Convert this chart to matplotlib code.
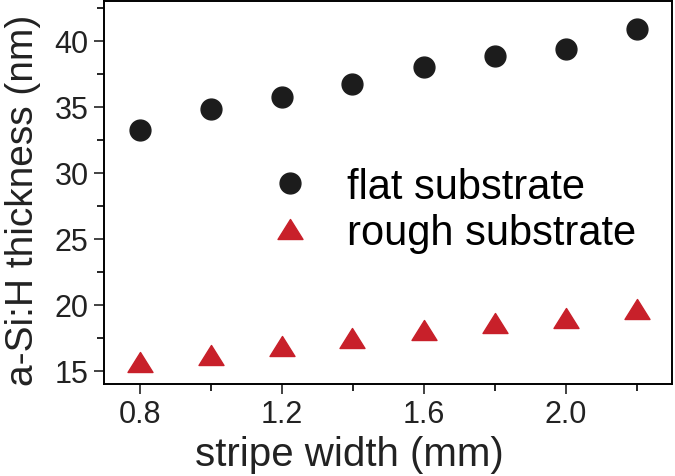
import numpy as np
import matplotlib
matplotlib.use("Agg")
import matplotlib.pyplot as plt
from matplotlib.path import Path
from matplotlib.ticker import MultipleLocator

plt.rcParams.update({
    "font.family": ["Liberation Sans", "DejaVu Sans"],
    "axes.linewidth": 1.4,
    "xtick.direction": "out",
    "ytick.direction": "out",
})

# ── data ─────────────────────────────────────────────────────
stripe_width = [0.8, 1.0, 1.2, 1.4, 1.6, 1.8, 2.0, 2.2]
flat_thick   = [33.2, 34.8, 35.7, 36.7, 38.0, 38.8, 39.4, 40.9]
rough_thick  = [15.7, 16.2, 16.9, 17.5, 18.1, 18.6, 19.0, 19.7]

# slightly squat triangle, as in the original
TRI = Path([(0, 1), (-1.25, -1), (1.25, -1), (0, 1)],
           [Path.MOVETO, Path.LINETO, Path.LINETO, Path.CLOSEPOLY])

fig = plt.figure(figsize=(6.75, 4.77), dpi=100)
ax = fig.add_axes([104 / 675, 92 / 477, 568 / 675, 383 / 477])

ax.plot(stripe_width, flat_thick, "o", color="#1c1c1c", markersize=15,
        linestyle="none", label="flat substrate")
ax.plot(stripe_width, rough_thick, marker=TRI, color="#c8202a",
        markersize=18, linestyle="none", label="rough substrate")

ax.set_xlim(0.70, 2.30)
ax.set_ylim(14.0, 43.0)
ax.xaxis.set_major_locator(MultipleLocator(0.4))
ax.xaxis.set_minor_locator(MultipleLocator(0.2))
ax.yaxis.set_major_locator(MultipleLocator(5))
ax.yaxis.set_minor_locator(MultipleLocator(2.5))
ax.set_xticks([0.8, 1.2, 1.6, 2.0])
ax.set_xticklabels(["0.8", "1.2", "1.6", "2.0"])
ax.tick_params(which="major", length=7, width=1.2, labelsize=22,
               colors="#222222", pad=4)
ax.tick_params(which="minor", length=5, width=1.2)

ax.set_xlabel("stripe width (mm)", fontsize=29, color="#222222", labelpad=4)
ax.set_ylabel("a-Si:H thickness (nm)", fontsize=28, color="#222222", labelpad=10)
ax.xaxis.label.set_x(0.432)
ax.yaxis.label.set_y(0.483)

ax.legend(loc="center left", bbox_to_anchor=(0.24, 0.455), frameon=False,
          fontsize=30, handletextpad=0.85, labelspacing=0.15,
          markerscale=1.0, handlelength=1.0, borderpad=0.2)

fig.savefig("out.png", dpi=100)
